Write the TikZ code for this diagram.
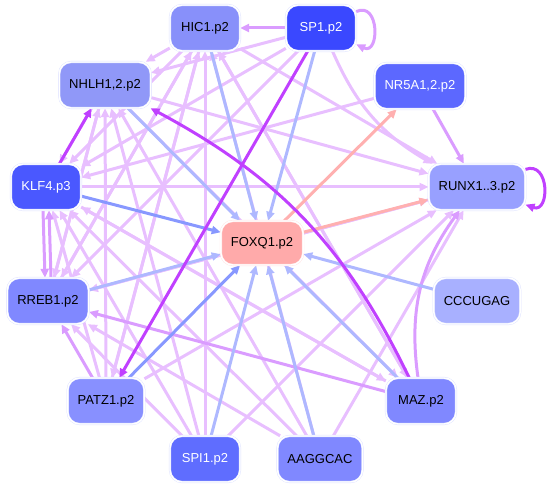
\documentclass[tikz,border=0pt]{standalone}
\usepackage{fontspec}
\setsansfont{Liberation Sans}
\usetikzlibrary{arrows.meta,backgrounds}
\definecolor{weakcol}{HTML}{E8BFFF}
\definecolor{midcol}{HTML}{DA9CFF}
\definecolor{strongcol}{HTML}{C040FF}
\definecolor{bluecol}{HTML}{AEB8FF}
\definecolor{bluedark}{HTML}{8898FF}
\definecolor{pinkcol}{HTML}{FFB0B0}
\definecolor{nodeline}{HTML}{DCE0FF}
\begin{document}
\begin{tikzpicture}[x=1pt,y=1pt,
    every node/.style={font=\sffamily\fontsize{13}{15}\selectfont},
    tf/.style={rectangle,rounded corners=12pt,minimum width=70pt,minimum height=46pt,
        inner xsep=10pt,draw=nodeline,double=white,double distance=1.4pt,line width=0.4pt},
    every edge/.style={draw,line width=3pt,-{Triangle[length=9pt,width=8pt]}},
    weak/.style={draw=weakcol},
    mid/.style={draw=midcol},
    strong/.style={draw=strongcol},
    blue/.style={draw=bluecol},
    bluedk/.style={draw=bluedark},
    pink/.style={draw=pinkcol}]
    \useasboundingbox (0,0) rectangle (558,-489);
    % regulators round the ring
    \node[tf,fill={rgb,255:red,136;green,144;blue,250}] (hic) at (205,-28) {HIC1.p2};
    \node[tf,fill={rgb,255:red,58;green,72;blue,255},text=white] (sp) at (321,-28) {SP1.p2};
    \node[tf,fill={rgb,255:red,144;green,152;blue,248}] (nhlh) at (105,-85) {NHLH1,2.p2};
    \node[tf,fill={rgb,255:red,92;green,104;blue,255},text=white] (nr) at (420,-86) {NR5A1,2.p2};
    \node[tf,fill={rgb,255:red,74;green,88;blue,255},text=white] (klf) at (46,-187) {KLF4.p3};
    \node[tf,fill={rgb,255:red,152;green,160;blue,255}] (runx) at (477,-187) {RUNX1..3.p2};
    \node[tf,fill={rgb,255:red,128;green,136;blue,255}] (rreb) at (48,-301) {RREB1.p2};
    \node[tf,fill={rgb,255:red,168;green,176;blue,255}] (ccc) at (477,-301) {CCCUGAG};
    \node[tf,fill={rgb,255:red,136;green,144;blue,255}] (patz) at (106,-401) {PATZ1.p2};
    \node[tf,fill={rgb,255:red,128;green,136;blue,255}] (maz) at (421,-401) {MAZ.p2};
    \node[tf,fill={rgb,255:red,95;green,109;blue,255},text=white] (spi) at (205,-459) {SPI1.p2};
    \node[tf,fill={rgb,255:red,128;green,136;blue,255}] (aag) at (320,-459) {AAGGCAC};
    % target in the middle
    \node[tf,fill={rgb,255:red,255;green,170;blue,170},draw={rgb,255:red,255;green,225;blue,225},
        minimum height=44pt] (foxq) at (262,-243) {FOXQ1.p2};

    \begin{pgfonlayer}{background}
    % weak links
    \path (sp) edge[weak] (nhlh) edge[weak] (klf) edge[weak] (rreb)
        edge[weak,bend right=18] (runx);
    \path (hic) edge[weak] (nhlh) edge[weak] (klf) edge[weak] (rreb) edge[weak] (patz)
        edge[weak] (runx) edge[weak] (maz);
    \path (nr) edge[weak] (klf);
    \path (klf) edge[weak] (runx) edge[weak] (maz);
    \path (nhlh) edge[weak] (runx) edge[weak] (maz) edge[weak] (rreb)
        edge[weak] (klf);
    \path (rreb) edge[weak] (nhlh) edge[weak] (hic) edge[weak] (runx);
    \path (patz) edge[weak] (nhlh) edge[weak] (hic) edge[weak] (runx) edge[weak] (klf);
    \path (spi) edge[weak] (nhlh) edge[weak] (hic) edge[weak] (runx) edge[weak] (rreb)
        edge[weak] (klf);
    \path (aag) edge[weak] (nhlh) edge[weak] (hic) edge[weak] (klf) edge[weak] (runx)
        edge[weak] (rreb);
    \path (maz) edge[weak] (hic) edge[weak] (klf);
    \path (runx) edge[weak] (rreb);

    % medium links
    \path (sp) edge[mid] (hic) edge[mid,out=25,in=-25,distance=26pt] (sp);
    \path (nr) edge[mid] (runx);
    \path (patz) edge[mid] (rreb);
    \path ([xshift=-3pt]klf.south) edge[mid] ([xshift=-3pt]rreb.north);
    \path ([xshift=3pt]rreb.north) edge[mid] ([xshift=3pt]klf.south);
    \path (maz) edge[mid] (rreb) edge[mid,bend left=22] (runx);

    % links into FOXQ1
    \path (hic) edge[blue] (foxq);
    \path (sp) edge[blue] (foxq);
    \path (nhlh) edge[blue] (foxq);
    \path (klf) edge[bluedk] (foxq);
    \path (rreb) edge[blue] (foxq);
    \path (patz) edge[bluedk] (foxq);
    \path (spi) edge[blue] (foxq);
    \path (aag) edge[blue] (foxq);
    \path (maz) edge[blue] (foxq);
    \path (ccc) edge[blue] (foxq);

    % strong links
    \path (foxq) edge[pink] (nr) edge[pink] (runx);
    \path (sp) edge[strong] (patz);
    \path (klf) edge[strong] (nhlh);
    \path (maz) edge[strong,bend right=18] (nhlh);
    \path (runx) edge[strong,out=20,in=-20,distance=26pt] (runx);
    \end{pgfonlayer}
\end{tikzpicture}
\end{document}
